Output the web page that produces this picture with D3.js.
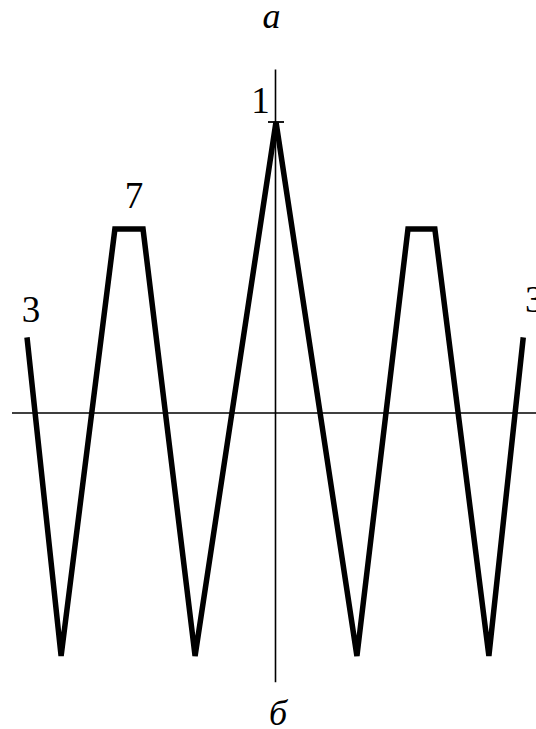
<!DOCTYPE html>
<html>
<head>
<meta charset="utf-8">
<script src="https://cdn.jsdelivr.net/npm/d3@7"></script>
<style>
  html, body { margin: 0; padding: 0; background: #fff; }
  svg { display: block; }
  text { font-family: "Liberation Serif", "DejaVu Serif", serif; fill: #000; }
</style>
</head>
<body>
<svg id="chart" width="536" height="729"></svg>
<script>
// Waveform vertices (normalised horizontal position, amplitude)
const xs = [-1.0, -0.863, -0.647, -0.534, -0.325, 0.0, 0.325, 0.53, 0.638, 0.855, 0.993];
const ys = [0.26, -0.835, 0.632, 0.632, -0.835, 1.0, -0.835, 0.632, 0.632, -0.835, 0.26];

// Point labels: index into the vertex arrays and their text
const labelIdx = [0, 2, 5, 10];
const labelText = ["3", "7", "1", "3"];

// Axis captions
const axisTop = "а";
const axisBottom = "б";

const svg = d3.select("#chart");

const x = d3.scaleLinear().domain([-1, 1]).range([276 - 249, 276 + 249]);
const y = d3.scaleLinear().domain([0, 1]).range([413, 122]);

// Axes
svg.append("line")
  .attr("x1", 12).attr("x2", 536)
  .attr("y1", y(0)).attr("y2", y(0))
  .attr("stroke", "#000").attr("stroke-width", 1.6);

svg.append("line")
  .attr("x1", x(0) - 0.5).attr("x2", x(0) - 0.5)
  .attr("y1", y(1.18)).attr("y2", y(-0.925))
  .attr("stroke", "#000").attr("stroke-width", 1.6);

// Tick at unit amplitude
svg.append("line")
  .attr("x1", x(0) - 8).attr("x2", x(0) + 8)
  .attr("y1", y(1)).attr("y2", y(1))
  .attr("stroke", "#000").attr("stroke-width", 1.8);

// Waveform (sharp joins fall back to bevel through the miter limit)
const pts = xs.map((v, i) => [v, ys[i]]);
const line = d3.line().x(d => x(d[0])).y(d => y(d[1]));
svg.append("path")
  .attr("d", line(pts))
  .attr("fill", "none")
  .attr("stroke", "#000")
  .attr("stroke-width", 5.5)
  .attr("stroke-linejoin", "miter")
  .attr("stroke-miterlimit", 4)
  .attr("stroke-linecap", "butt");

// Point labels, placed relative to their vertices
const offsets = [[4, -15], [19, -21], [-15.5, -9], [11, -25]];
labelIdx.forEach((idx, k) => {
  svg.append("text")
    .attr("x", x(xs[idx]) + offsets[k][0])
    .attr("y", y(ys[idx]) + offsets[k][1])
    .attr("text-anchor", "middle")
    .attr("font-size", 37)
    .text(labelText[k]);
});

// Axis captions
svg.append("text")
  .attr("x", 271.5).attr("y", 28)
  .attr("text-anchor", "middle")
  .attr("font-size", 36)
  .attr("font-style", "italic")
  .text(axisTop);

svg.append("text")
  .attr("x", 278).attr("y", 725)
  .attr("text-anchor", "middle")
  .attr("font-size", 36)
  .attr("font-style", "italic")
  .text(axisBottom);
</script>
</body>
</html>
